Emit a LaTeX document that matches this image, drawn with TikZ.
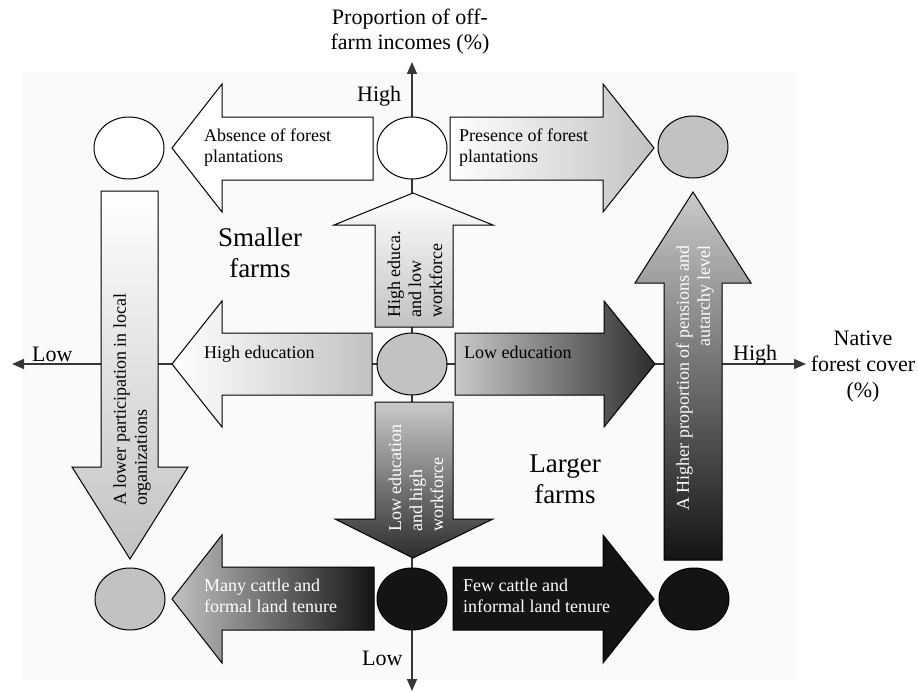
\documentclass[tikz,border=0pt]{standalone}
\usepackage{fontspec}
\setmainfont{Liberation Serif}
\usetikzlibrary{shapes.geometric,arrows.meta}
\definecolor{cgray}{RGB}{194,194,194}
\definecolor{clight}{RGB}{202,202,202}
\definecolor{cdark}{RGB}{45,45,45}
\definecolor{cblack}{RGB}{20,20,20}
\definecolor{bgc}{RGB}{250,250,250}
\definecolor{axc}{RGB}{55,55,55}
\begin{document}
\begin{tikzpicture}[x={(1pt,0)},y={(0,-1pt)},
  circ/.style={ellipse,draw=black,line width=1pt,minimum width=70pt,minimum height=62pt,inner sep=0pt},
  blk/.style={draw=black,line width=1pt,line join=miter},
  lab/.style={font=\fontsize{18}{21}\selectfont,inner sep=0pt},
  axlab/.style={font=\fontsize{22}{25.5}\selectfont,inner sep=0pt,align=center},
  big/.style={font=\fontsize{27}{31}\selectfont,inner sep=0pt,align=center},
  axisline/.style={draw=axc,line width=1.6pt},
  tip/.tip={Triangle[length=12pt,width=10pt]}]
\useasboundingbox (0,0) rectangle (919,693);
\fill[bgc] (22,72) rectangle (797,680);
% axes
\coordinate (ytop) at (412,62);
\coordinate (ybot) at (412,691);
\coordinate (xl) at (12,364);
\coordinate (xr) at (806,364);
\draw[axisline,tip-tip] (ybot) -- (ytop);
\draw[axisline,tip-tip] (xl) -- (xr);
% block arrows
\path[blk,fill=white] (172,148) -- (222,84) -- (222,117) -- (373,117) -- (373,180) -- (222,180) -- (222,212) -- cycle;
\path[blk,left color=white,right color=cgray] (654,148) -- (603,84) -- (603,117) -- (450,117) -- (450,180) -- (603,180) -- (603,212) -- cycle;
\path[blk,left color=white,right color=cgray] (172,364) -- (222,301) -- (222,333) -- (372,333) -- (372,395) -- (222,395) -- (222,427) -- cycle;
\path[blk,left color=clight,right color=cdark] (655,364) -- (604,301) -- (604,333) -- (455,333) -- (455,395) -- (604,395) -- (604,427) -- cycle;
\path[blk,left color=cgray,right color=cblack] (172,599) -- (222,535) -- (222,567) -- (374,567) -- (374,630) -- (222,630) -- (222,663) -- cycle;
\path[blk,fill=cblack] (654,599) -- (603,535) -- (603,567) -- (453,567) -- (453,630) -- (603,630) -- (603,663) -- cycle;
\path[blk,top color=white,bottom color=cgray] (413,193) -- (493,225) -- (453,225) -- (453,327) -- (375,327) -- (375,225) -- (334,225) -- cycle;
\path[blk,top color=clight,bottom color=cdark] (375,402) -- (453,402) -- (453,519) -- (493,519) -- (413,558) -- (335,519) -- (375,519) -- cycle;
\path[blk,top color=white,bottom color=cgray] (101,191) -- (158,191) -- (158,467) -- (188,467) -- (130,559) -- (72,467) -- (101,467) -- cycle;
\path[blk,top color=clight,bottom color=cblack] (693,192) -- (751,283) -- (722,283) -- (722,560) -- (664,560) -- (664,283) -- (635,283) -- cycle;
% circles
\node[circ,fill=white] (tl) at (129,148) {};
\node[circ,fill=white] (tc) at (412,148) {};
\node[circ,fill=cgray] (tr) at (693,147) {};
\node[circ,fill=cgray] (cc) at (412,364) {};
\node[circ,fill=cgray] (bl) at (130,599) {};
\node[circ,fill=cblack] (bc) at (412,599) {};
\node[circ,fill=cblack] (br) at (694,599) {};
% arrow labels
\node[lab,align=left,anchor=west] (tabs) at (204,148) {Absence of forest\\plantations};
\node[lab,align=left,anchor=west] (tpres) at (459,148) {Presence of forest\\plantations};
\node[lab,anchor=base west] (thed) at (204,358) {High education};
\node[lab,anchor=base west] (tled) at (464,358) {Low education};
\node[lab,align=left,anchor=west,text=white] (tmany) at (204,596) {Many cattle and\\formal land tenure};
\node[lab,align=left,anchor=west,text=white] (tfew) at (463,596) {Few cattle and\\informal land tenure};
\node[lab,align=left,anchor=west,rotate=90] (thew) at (415,318) {High educa.\\and low\\workforce};
\node[lab,align=left,anchor=west,rotate=90,text=white] (tlew) at (416,532) {Low education\\and high\\workforce};
\node[lab,align=left,anchor=west,rotate=90] (tpart) at (132,506) {A lower participation in local\\organizations};
\node[lab,align=right,anchor=east,rotate=90,text=white] (tpens) at (695,245) {A Higher proportion of pensions and\\autarchy level};
% region labels
\node[big] (small) at (260,253) {Smaller\\farms};
\node[big] (large) at (565,479) {Larger\\farms};
% axis labels
\node[axlab] (ylab) at (410,31.5) {Proportion of off-\\farm incomes (\%)};
\node[axlab,font=\fontsize{22}{26}\selectfont] (xlab) at (863,366.5) {Native\\forest cover\\(\%)};
\node[axlab,anchor=base west] (yhigh) at (357,102) {High};
\node[axlab,anchor=base west] (ylow) at (362,665) {Low};
\node[axlab,anchor=base west] (xlow) at (32,361) {Low};
\node[axlab,anchor=base west] (xhigh) at (733,360) {High};
\end{tikzpicture}
\end{document}
